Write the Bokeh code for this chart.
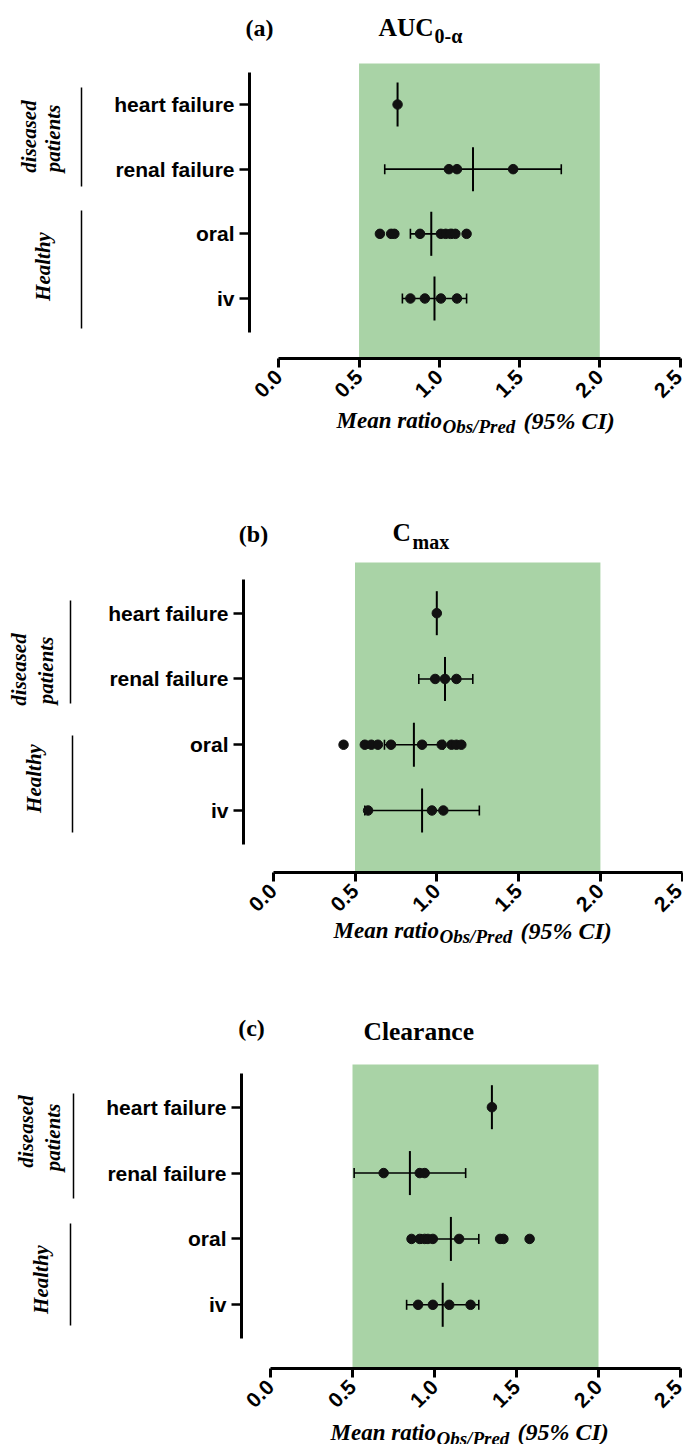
import math
from bokeh.plotting import figure
from bokeh.layouts import column
from bokeh.models import (FixedTicker, BoxAnnotation, Label, Range1d, LinearAxis,
                          PrintfTickFormatter)
from bokeh.embed import file_html
from bokeh.resources import INLINE

# ---------------- data ----------------
categories = ["iv", "oral", "renal failure", "heart failure"]
x_ticks = [0.0, 0.5, 1.0, 1.5, 2.0, 2.5]
accept_low, accept_high = 0.5, 2.0

# AUC0-alpha
auc_iv = [0.82, 0.91, 1.01, 1.11]
auc_oral = [0.63, 0.70, 0.72, 0.88, 1.01, 1.04, 1.07, 1.10, 1.17]
auc_renal = [1.06, 1.11, 1.46]
auc_heart = [0.74]
auc_mean = [0.97, 0.95, 1.21, 0.74]
auc_ci_low = [0.77, 0.82, 0.66, None]
auc_ci_high = [1.17, 1.08, 1.76, None]

# Cmax
cmax_iv = [0.58, 0.97, 1.04]
cmax_oral = [0.43, 0.56, 0.60, 0.64, 0.72, 0.91, 1.03, 1.09, 1.12, 1.15]
cmax_renal = [0.99, 1.05, 1.12]
cmax_heart = [1.00]
cmax_mean = [0.91, 0.86, 1.05, 1.00]
cmax_ci_low = [0.56, 0.68, 0.89, None]
cmax_ci_high = [1.26, 1.04, 1.22, None]

# Clearance
cl_iv = [0.90, 0.99, 1.09, 1.22]
cl_oral = [0.86, 0.91, 0.94, 0.96, 0.99, 1.15, 1.40, 1.42, 1.58]
cl_renal = [0.69, 0.91, 0.94]
cl_heart = [1.35]
cl_mean = [1.05, 1.10, 0.85, 1.35]
cl_ci_low = [0.83, 0.92, 0.51, None]
cl_ci_high = [1.27, 1.27, 1.19, None]

SERIF = "Liberation Serif"
SANS = "Liberation Sans"
GREEN = "#a9d3a6"
W = 683


def make_panel(tag, title_main, title_sub, groups, means, ci_lo, ci_hi, g):
    # g: layout geometry in canvas pixels (relative to this panel's top)
    H = g["H"]
    x0px, xs = g["x0px"], g["xscale"]
    heart_px, iv_px = g["heart"], g["iv"]
    ys = (iv_px - heart_px) / 3.0

    def dx(px):
        return (px - x0px) / xs

    def dy(py):
        return (iv_px - py) / ys

    p = figure(width=W, height=H, output_backend="svg", toolbar_location=None,
               x_range=Range1d(dx(0), dx(W)), y_range=Range1d(dy(H), dy(0)),
               x_axis_location=None, y_axis_location=None,
               min_border_left=0, min_border_right=0,
               min_border_top=0, min_border_bottom=0)
    p.outline_line_color = None
    p.grid.visible = False
    p.background_fill_color = "white"

    xa = LinearAxis(fixed_location=dy(g["xaxis_y"]))
    xa.ticker = FixedTicker(ticks=x_ticks)
    xa.formatter = PrintfTickFormatter(format="%.1f")
    xa.bounds = (x_ticks[0], x_ticks[-1])
    xa.axis_line_width = 3
    xa.axis_line_color = "black"
    xa.major_tick_line_width = 3
    xa.major_tick_out = 9
    xa.major_tick_in = 0
    xa.minor_tick_out = 0
    xa.minor_tick_in = 0
    xa.major_label_orientation = math.pi / 4
    xa.major_label_standoff = 6
    xa.major_label_text_font = SANS
    xa.major_label_text_font_style = "bold"
    xa.major_label_text_font_size = "21px"
    xa.major_label_text_color = "black"
    p.add_layout(xa, "below")

    ya = LinearAxis(fixed_location=dx(g["yaxis_x"]))
    ya.ticker = FixedTicker(ticks=list(range(len(categories))))
    ya.major_label_overrides = {i: c for i, c in enumerate(categories)}
    ya.bounds = (dy(g["yax_bot"]), dy(g["yax_top"]))
    ya.axis_line_width = 3
    ya.axis_line_color = "black"
    ya.major_tick_line_width = 2.5
    ya.major_tick_out = 10
    ya.major_tick_in = 0
    ya.minor_tick_out = 0
    ya.minor_tick_in = 0
    ya.major_label_standoff = 5
    ya.major_label_text_font = SANS
    ya.major_label_text_font_style = "bold"
    ya.major_label_text_font_size = "21px"
    ya.major_label_text_color = "black"
    p.add_layout(ya, "left")

    p.add_layout(BoxAnnotation(left=accept_low, right=accept_high,
                               bottom=dy(g["xaxis_y"] - 1.5), top=dy(g["ftop"]),
                               fill_color=GREEN, fill_alpha=1.0, line_color=None,
                               level="underlay"))

    mean_half = 22.0 / ys
    cap_half = 5.0 / ys
    idx = list(range(len(categories)))
    ci_idx = [i for i in idx if ci_lo[i] is not None]
    lo = [ci_lo[i] for i in ci_idx]
    hi = [ci_hi[i] for i in ci_idx]
    yc = [float(i) for i in ci_idx]
    p.segment(x0=lo, y0=yc, x1=hi, y1=yc, line_color="black", line_width=1.6)
    p.segment(x0=lo, y0=[y - cap_half for y in yc], x1=lo, y1=[y + cap_half for y in yc],
              line_color="black", line_width=1.6)
    p.segment(x0=hi, y0=[y - cap_half for y in yc], x1=hi, y1=[y + cap_half for y in yc],
              line_color="black", line_width=1.6)
    p.segment(x0=means, y0=[i - mean_half for i in idx], x1=means,
              y1=[i + mean_half for i in idx], line_color="black", line_width=2)
    for i, pts in enumerate(groups):
        p.scatter(x=pts, y=[i] * len(pts), size=9.5, fill_color="#111111",
                  line_color="#111111")

    def lab(x, y, text, size, style, align="left", angle=0.0):
        p.add_layout(Label(x=dx(x), y=dy(y), text=text, angle=angle,
                           text_font=SERIF, text_font_style=style, text_font_size=size,
                           text_align=align, text_baseline="middle", text_color="black"))

    # titles
    lab(g["tag_x"], g["tag_y"], tag, "24px", "bold", align="center")
    lab(g["t_x"], g["t_y"], title_main, "25.5px", "bold")
    if title_sub:
        lab(g["ts_x"], g["ts_y"], title_sub, "20px", "bold")

    # x-axis title with subscript
    lab(g["xl_x"], g["xl_y"], "Mean ratio", "23px", "bold italic")
    lab(g["xl_x"] + 106, g["xl_y"] + 6, "Obs/Pred", "19px", "bold italic")
    lab(g["xl_x"] + 187, g["xl_y"], "(95% CI)", "24px", "bold italic")

    # group labels and brackets
    for txt, (cx, cy) in (("diseased", g["dis"]), ("patients", g["pat"]), ("Healthy", g["hea"])):
        lab(cx, cy, txt, "21px", "bold italic", align="center", angle=math.pi / 2)
    bx = [dx(g["line1"][0]), dx(g["line2"][0])]
    p.segment(x0=bx, y0=[dy(g["line1"][1]), dy(g["line2"][1])],
              x1=bx, y1=[dy(g["line1"][2]), dy(g["line2"][2])],
              line_color="black", line_width=1.5)
    return p


geo_a = dict(H=500, ftop=63, xaxis_y=358, yaxis_x=249, x0px=278.3, xscale=160.5,
             heart=104, iv=298, yax_top=72, yax_bot=332,
             tag_x=259, tag_y=27, t_x=378, t_y=27, ts_x=434, ts_y=35,
             xl_x=336, xl_y=420,
             dis=(28, 136), pat=(52, 138), hea=(42, 266),
             line1=(81, 87, 186), line2=(81, 210, 328))
geo_b = dict(H=480, ftop=62, xaxis_y=372, yaxis_x=243, x0px=272.7, xscale=163.6,
             heart=112.7, iv=310, yax_top=79, yax_bot=344,
             tag_x=253, tag_y=33, t_x=392, t_y=32, ts_x=412, ts_y=41,
             xl_x=333, xl_y=430,
             dis=(18, 169), pat=(45, 170), hea=(33, 278),
             line1=(70, 100, 203), line2=(72, 235, 332))
geo_c = dict(H=464, ftop=84, xaxis_y=388, yaxis_x=241, x0px=270, xscale=164.0,
             heart=126.7, iv=324.3, yax_top=93, yax_bot=358,
             tag_x=251, tag_y=47, t_x=363, t_y=51, ts_x=0, ts_y=0,
             xl_x=330, xl_y=451.5,
             dis=(25, 151), pat=(52, 157), hea=(40, 299),
             line1=(73, 113, 218), line2=(70, 243, 345))

pa = make_panel("(a)", "AUC", "0-\u03b1", [auc_iv, auc_oral, auc_renal, auc_heart],
                auc_mean, auc_ci_low, auc_ci_high, geo_a)
pb = make_panel("(b)", "C", "max", [cmax_iv, cmax_oral, cmax_renal, cmax_heart],
                cmax_mean, cmax_ci_low, cmax_ci_high, geo_b)
pc = make_panel("(c)", "Clearance", "", [cl_iv, cl_oral, cl_renal, cl_heart],
                cl_mean, cl_ci_low, cl_ci_high, geo_c)

layout = column(pa, pb, pc, spacing=0)
open("out.html", "w").write(file_html(layout, INLINE))
